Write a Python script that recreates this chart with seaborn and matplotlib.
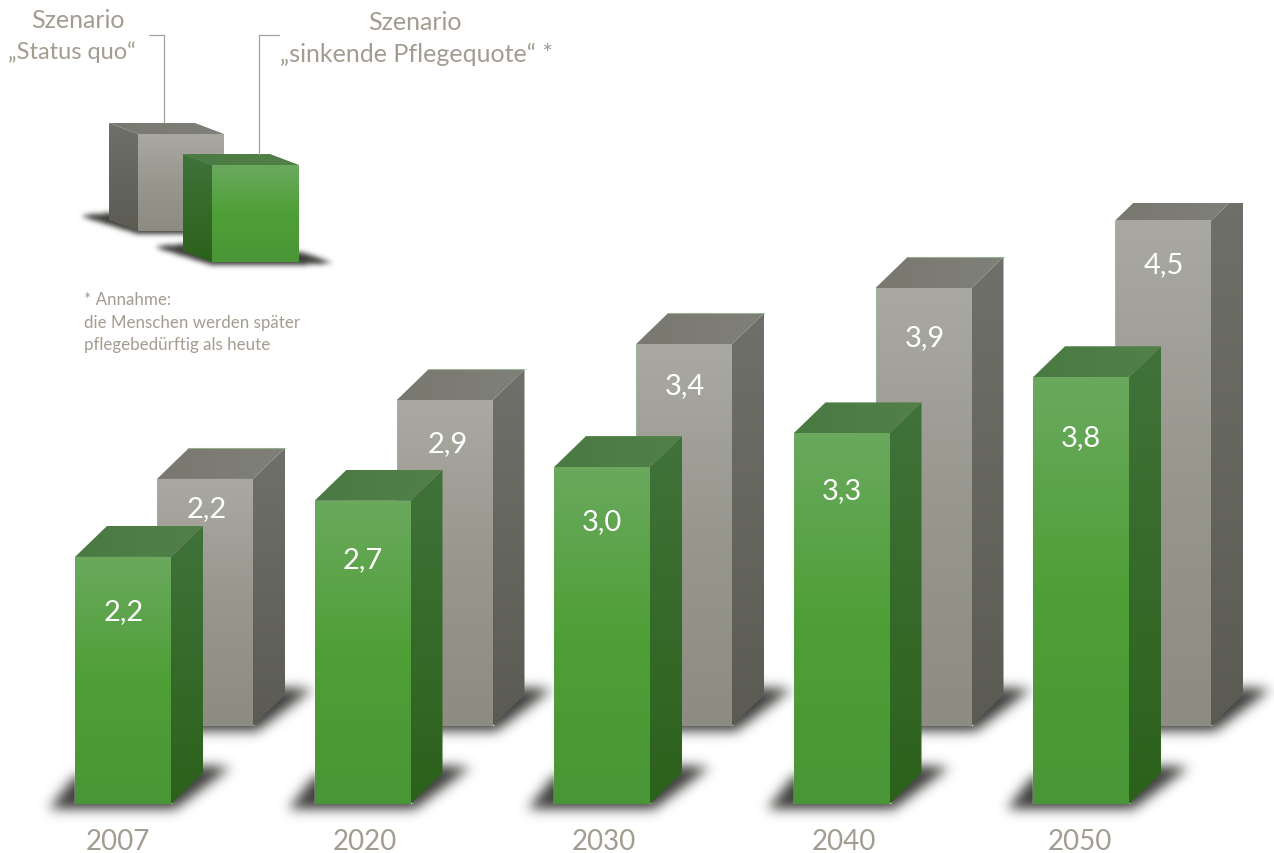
import numpy as np
import matplotlib
matplotlib.use("Agg")
import matplotlib.pyplot as plt
from matplotlib.lines import Line2D
from matplotlib.path import Path
from matplotlib.patches import Polygon
from matplotlib.transforms import Affine2D, IdentityTransform
import seaborn as sns

# Pflegebedürftige in Millionen
years = ["2007", "2020", "2030", "2040", "2050"]
status_quo = [2.2, 2.9, 3.4, 3.9, 4.5]
sinkende_quote = [2.2, 2.7, 3.0, 3.3, 3.8]

# Drop of each value label below the top of its bar, in pixels
status_label_drop = [29, 43, 41, 49, 43]
sinkende_label_drop = [54, 58, 54, 57, 60]
status_label_shift = [2, 3, 1, 1, 1]
sinkende_label_shift = [1, 0, 0, 0, 0]
year_label_shift = [-5, 2, 2, 2, -1]

TEXT = "#a39c91"
W, H = 1274, 854
PX_PER_UNIT = 112.3
STEP = 239.5
DEPTH = (32, 31)

GREEN = dict(front=["#6aa95e", "#4f9f37", "#499636"], side=["#40733a", "#2c611b"],
             top=["#4a7a43", "#528048"], edge=None)
GREY = dict(front=["#a9a9a2", "#98978e", "#8d8c83"], side=["#70706a", "#5b5b54"],
            top=["#78786f", "#80807a"], edge="#9dbb95")

sns.set_theme(style="white")
plt.rcParams["font.family"] = ["Lato", "DejaVu Sans"]

fig = plt.figure(figsize=(W / 100, H / 100), dpi=100, facecolor="white")


def hex_rgb(c):
    return np.array(matplotlib.colors.to_rgb(c))


def ramp(colors, n=256):
    """Vertical colour ramp, first colour at the top."""
    stops = np.linspace(0, 1, len(colors))
    rgb = np.stack([hex_rgb(c) for c in colors])
    t = np.linspace(0, 1, n)
    return np.stack([np.interp(t, stops, rgb[:, i]) for i in range(3)], axis=1)[:, None, :]


def fill(ax, verts, colors, z, horizontal=False):
    """Polygon in display pixels filled with a gradient."""
    tf = IdentityTransform()
    v = np.asarray(verts, float)
    clip = Polygon(v, closed=True, transform=tf, facecolor="none", edgecolor="none")
    ax.add_patch(clip)
    img = ramp(colors)
    if horizontal:
        img = img.transpose(1, 0, 2)
    im = ax.imshow(img, extent=(v[:, 0].min(), v[:, 0].max(), v[:, 1].min(), v[:, 1].max()),
                   aspect="auto", origin="upper", transform=tf, zorder=z, interpolation="bilinear")
    im.set_clip_path(clip)
    return im


def shadow(ax, verts, z, sigma=6.0, alpha=1.0):
    """Soft dark shape on the ground, given in display pixels."""
    v = np.asarray(verts, float)
    pad = int(sigma * 4)
    x0, x1 = int(v[:, 0].min()) - pad, int(v[:, 0].max()) + pad
    y0, y1 = int(v[:, 1].min()) - pad, int(v[:, 1].max()) + pad
    xx, yy = np.meshgrid(np.arange(x0, x1) + 0.5, np.arange(y0, y1) + 0.5)
    mask = Path(v).contains_points(np.c_[xx.ravel(), yy.ravel()]).reshape(xx.shape).astype(float)
    k = np.exp(-0.5 * (np.arange(-pad, pad + 1) / sigma) ** 2)
    k /= k.sum()
    mask = np.apply_along_axis(lambda r: np.convolve(r, k, mode="same"), 0, mask)
    mask = np.apply_along_axis(lambda r: np.convolve(r, k, mode="same"), 1, mask)
    rgba = np.zeros(mask.shape + (4,))
    rgba[..., :3] = hex_rgb("#3c3c3a")
    rgba[..., 3] = mask * alpha
    im = ax.imshow(rgba, extent=(x0, x1, y0, y1), origin="lower", aspect="auto",
                   transform=IdentityTransform(), zorder=z, interpolation="bilinear")
    im.set_clip_on(False)


def bar_layer(left, baseline, top_px, right_px, values, palette, drops, shifts, z, tick_labels):
    """One row of bars on its own axes; left and baseline are pixel positions."""
    bottom = 1 - baseline / H
    ax = fig.add_axes([left / W, bottom, (right_px - left) / W, (baseline - top_px) / H], zorder=z)
    ax.patch.set_alpha(0)
    sns.barplot(x=years, y=values, order=years, ax=ax, color=palette["front"][1],
                saturation=1, width=96 / STEP)
    ax.set_xlim(-0.5, -0.5 + (right_px - left) / STEP)
    ax.set_ylim(0, (baseline - top_px) / PX_PER_UNIT)
    xlim, ylim = ax.get_xlim(), ax.get_ylim()
    sns.despine(ax=ax, left=True, bottom=True, top=True, right=True)
    ax.set_yticks([])
    ax.set_xlabel("")
    ax.set_ylabel("")

    renderer = fig.canvas.get_renderer()
    for i, bar in enumerate(list(ax.patches)[:len(values)]):
        box = bar.get_window_extent(renderer)
        x0, x1, y0, y1 = box.x0, box.x1, box.y0, box.y1
        dx, dy = DEPTH
        shadow(ax, [(x0, y0 + 28), (x0 - 26, y0 - 5), (x1 + 4, y0 - 5), (x1 + 60, y0 + 37),
                    (x1 + dx, y0 + 38)], 0.5)
        fill(ax, [(x0, y0), (x1, y0), (x1, y1), (x0, y1)], palette["front"], 2)
        fill(ax, [(x1, y0), (x1 + dx, y0 + dy), (x1 + dx, y1 + dy), (x1, y1)], palette["side"], 2)
        fill(ax, [(x0, y1), (x1, y1), (x1 + dx, y1 + dy), (x0 + dx, y1 + dy)], palette["top"], 2,
             horizontal=True)
        if palette["edge"]:
            for xs, ys in (([x0, x0], [y0, y1]), ([x0 + dx, x1 + dx], [y1 + dy, y1 + dy])):
                ax.add_line(Line2D(xs, ys, color=palette["edge"], lw=0.8, alpha=0.8,
                                   transform=IdentityTransform(), zorder=2.5))
        ax.annotate(f"{values[i]:.1f}".replace(".", ","),
                    xy=(bar.get_x() + bar.get_width() / 2, values[i]),
                    xytext=(shifts[i] * 0.72, -drops[i] * 0.72), textcoords="offset points",
                    ha="center", va="center", color="white", fontsize=21, zorder=5)
    ax.set_xlim(xlim)
    ax.set_ylim(ylim)
    if tick_labels:
        ax.tick_params(axis="x", length=0, pad=17.5, labelsize=20, labelcolor=TEXT)
        for label, shift in zip(ax.get_xticklabels(), year_label_shift):
            label.set_transform(label.get_transform() + Affine2D().translate(shift, 0))
    else:
        ax.set_xticks([])
    return ax


# Rear row, then the front row over it
bar_layer(85.25, 727, 204, 1270, status_quo, GREY, status_label_drop, status_label_shift, 2, False)
bar_layer(3.25, 805, 0, 1200.75, sinkende_quote, GREEN, sinkende_label_drop, sinkende_label_shift, 3, True)

# Key, captions and footnote in pixel coordinates measured from the top left
key = fig.add_axes([0, 0, 1, 1], zorder=1)
key.axis("off")
key.patch.set_alpha(0)


def up(points):
    return [(x, H - y) for x, y in points]


def cube(x0, y0, w, h, dx, dy, palette, z):
    """Small cube with its side face on the left."""
    x1, y1 = x0 + w, y0 + h
    shadow(key, up([(x0 - 55, y1 - 16), (x0 - dx, y1 - 18), (x1, y1 - 10), (x1 + 6, y1 - 9),
                    (x1 + 34, y1 + 1), (x1, y1 + 3), (x0, y1 + 3), (x0 - 55, y1 - 14)]),
           z, sigma=2.6)
    fill(key, up([(x0, y0), (x1, y0), (x1, y1), (x0, y1)]), palette["front"], z + 0.2)
    fill(key, up([(x0 - dx, y0 - dy), (x0, y0), (x0, y1), (x0 - dx, y1 - dy)]), palette["side"], z + 0.2)
    fill(key, up([(x0 - dx, y0 - dy), (x1 - dx, y0 - dy), (x1, y0), (x0, y0)]), palette["top"], z + 0.2,
         horizontal=True)


cube(138, 135, 86, 97, 29, 11, GREY, 1)
cube(212, 166, 87, 97, 29, 11, GREEN, 2)
key.set_xlim(0, W)
key.set_ylim(H, 0)

key.plot([149, 164, 164], [36, 36, 124], color="#a8a49c", lw=0.9, zorder=0.8)
key.plot([279, 259, 259], [36, 36, 155], color="#a8a49c", lw=0.9, zorder=3)

key.text(78, 21, "Szenario", ha="center", va="center", color=TEXT, fontsize=18)
key.text(72, 52, "„Status quo“", ha="center", va="center", color=TEXT, fontsize=17)
key.text(415, 22, "Szenario", ha="center", va="center", color=TEXT, fontsize=18)
key.text(416, 54, "„sinkende Pflegequote“ *", ha="center", va="center", color=TEXT, fontsize=18)
key.text(84, 300, "* Annahme:", ha="left", va="center", color=TEXT, fontsize=12.2)
key.text(84, 323, "die Menschen werden später", ha="left", va="center", color=TEXT, fontsize=12.2)
key.text(84, 345, "pflegebedürftig als heute", ha="left", va="center", color=TEXT, fontsize=12.2)

fig.savefig("out.png", dpi=100, facecolor="white")
